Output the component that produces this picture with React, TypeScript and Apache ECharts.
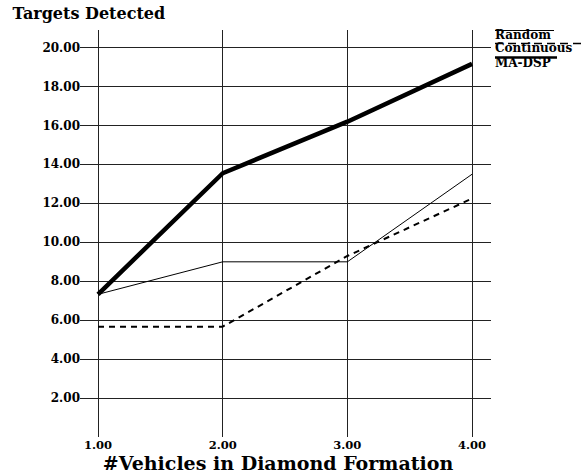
import React, { useEffect, useRef } from "react";
import * as echarts from "echarts";

const xValues = [1, 2, 3, 4];
const randomVals = [7.33, 9.0, 9.0, 13.5];
const continuousVals = [5.67, 5.67, 9.3, 12.25];
const maDspVals = [7.33, 13.55, 16.2, 19.17];
const seriesNames = ["Random", "Continuous", "MA-DSP"];
const yTitle = "Targets Detected";
const xTitle = "#Vehicles in Diamond Formation";

const FONT = "'DejaVu Serif', 'Liberation Serif', serif";

export default function App() {
  const ref = useRef<HTMLDivElement>(null);
  useEffect(() => {
    if (!ref.current) return;
    const chart = echarts.init(ref.current, null, { renderer: "svg" });
    const pair = (vals: number[]) => xValues.map((x, i) => [x, vals[i]]);
    const legendRows = [
      { name: seriesNames[0], y: 34.5, lineY: 30.5, w: 1, dash: null as any, len: 59 },
      { name: seriesNames[1], y: 48, lineY: 43.5, w: 1.5, dash: [8, 5], len: 87 },
      { name: seriesNames[2], y: 62.5, lineY: 57.5, w: 2.5, dash: null as any, len: 62 },
    ];
    const graphics: any[] = [
      {
        type: "text",
        x: 12.5,
        y: 13.5,
        style: {
          text: yTitle,
          font: `bold 16px ${FONT}`,
          fill: "#000",
          align: "left",
          verticalAlign: "middle",
        },
      },
      {
        type: "text",
        x: 278,
        y: 462.5,
        style: {
          text: xTitle,
          font: `bold 19px ${FONT}`,
          fill: "#000",
          align: "center",
          verticalAlign: "middle",
        },
      },
    ];
    legendRows.forEach((r) => {
      graphics.push({
        type: "text",
        x: 495,
        y: r.y,
        style: {
          text: r.name,
          font: `bold 12px ${FONT}`,
          fill: "#000",
          align: "left",
          verticalAlign: "middle",
        },
      });
      graphics.push({
        type: "line",
        shape: { x1: 495, y1: r.lineY, x2: 495 + r.len, y2: r.lineY },
        style: { stroke: "#000", lineWidth: r.w, lineDash: r.dash || undefined },
      });
    });
    chart.setOption({
      animation: false,
      backgroundColor: "#fff",
      grid: { left: 80, right: 95, top: 30, bottom: 39, containLabel: false },
      xAxis: {
        type: "value",
        min: 0.8556,
        max: 4.152,
        minInterval: 1,
        maxInterval: 1,
        axisLine: { show: false },
        axisTick: { show: false },
        axisLabel: {
          showMinLabel: false,
          showMaxLabel: false,
          margin: 2,
          fontFamily: FONT,
          fontWeight: "bold",
          fontSize: 11.5,
          color: "#000",
          formatter: (v: number) => v.toFixed(2),
        },
        splitLine: {
          show: true,
          showMinLine: false,
          showMaxLine: false,
          lineStyle: { color: "#222", width: 1 },
        },
      },
      yAxis: {
        type: "value",
        min: 0,
        max: 20.91,
        interval: 2,
        axisLine: { show: false },
        axisTick: { show: false },
        axisLabel: {
          showMinLabel: false,
          showMaxLabel: false,
          margin: 0,
          fontFamily: FONT,
          fontWeight: "bold",
          fontSize: 12,
          color: "#000",
          formatter: (v: number) => (v === 0 ? "" : v.toFixed(2)),
        },
        splitLine: {
          show: true,
          showMinLine: false,
          showMaxLine: false,
          lineStyle: { color: "#222", width: 1 },
        },
      },
      series: [
        {
          name: seriesNames[0],
          type: "line",
          data: pair(randomVals),
          symbol: "none",
          lineStyle: { color: "#000", width: 1 },
        },
        {
          name: seriesNames[1],
          type: "line",
          data: pair(continuousVals),
          symbol: "none",
          lineStyle: { color: "#000", width: 2, type: [6, 5] },
        },
        {
          name: seriesNames[2],
          type: "line",
          data: pair(maDspVals),
          symbol: "none",
          lineStyle: { color: "#000", width: 4.5 },
        },
      ],
      graphic: graphics,
    });
    return () => chart.dispose();
  }, []);
  return <div ref={ref} style={{ width: 586, height: 476, position: "absolute", left: 0, top: 0 }} />;
}
